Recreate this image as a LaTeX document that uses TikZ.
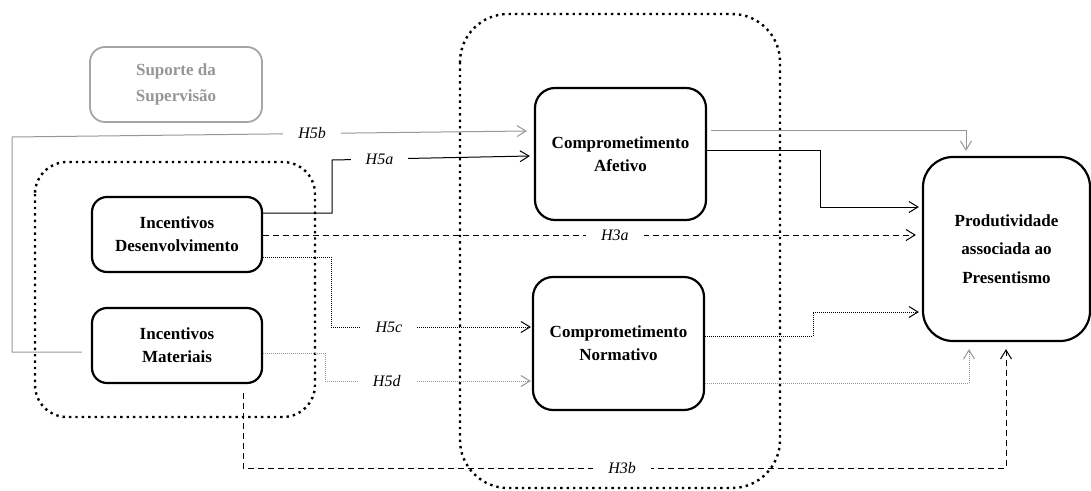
\documentclass[tikz,border=0pt]{standalone}
\usepackage{fontspec}
\setmainfont{Liberation Serif}
\usetikzlibrary{arrows.meta}
\definecolor{lgray}{RGB}{150,150,150}
\definecolor{bgray}{RGB}{165,165,165}
\tikzset{
  box/.style={draw, line width=2.2pt, rounded corners=15pt, align=center,
    font=\fontsize{17}{23}\selectfont\bfseries, inner sep=0pt},
  container/.style={line width=2.4pt, dash pattern=on 2.4pt off 4pt, rounded corners=#1},
  conn/.style={line width=1pt},
  tip/.style={-{Straight Barb[length=9pt,width=11pt]}},
  lbl/.style={fill=white, font=\fontsize{16}{18}\selectfont\itshape, inner xsep=15pt, inner ysep=2pt},
  fdot/.style={dash pattern=on 1pt off 1pt},
  dsh/.style={dash pattern=on 6pt off 4pt},
}
\begin{document}
\begin{tikzpicture}[x=1pt,y=-1pt]
\useasboundingbox (0,0) rectangle (1091,490);
% containers
\draw[container=32pt] (35,162) rectangle (315,417);
\draw[container=48pt] (460,14) rectangle (780,488);
% nodes
\node[box, draw=bgray, text=lgray, line width=1.8pt, font=\fontsize{17}{26}\selectfont\bfseries,
  minimum width=172pt, minimum height=75pt] (sup) at (176,84.5) {Suporte da\\Supervisão};
\node[box, minimum width=170pt, minimum height=75pt] (dev) at (177,234.5) {Incentivos\\Desenvolvimento};
\node[box, minimum width=170pt, minimum height=75pt] (mat) at (177,345.5) {Incentivos\\Materiais};
\node[box, rounded corners=20pt, minimum width=171pt, minimum height=132pt] (afe) at (620.5,154) {Comprometimento\\Afetivo};
\node[box, rounded corners=20pt, minimum width=171pt, minimum height=133pt] (nor) at (618.5,343.5) {Comprometimento\\Normativo};
\node[box, rounded corners=30pt, font=\fontsize{17}{28.5}\selectfont\bfseries,
  minimum width=167pt, minimum height=184pt] (prod) at (1006.5,249) {Produtividade\\associada ao\\Presentismo};
% connectors
% H5b (gray)
\draw[conn, lgray, tip] ([xshift=-9pt,yshift=-6.5pt]mat.west) -- (12,352) -- (12,137)
  -- node[lbl, text=black, pos=0.583] {H5b} ([xshift=-7pt,yshift=23pt]afe.west);
% afetivo -> prod (gray)
\draw[conn, lgray, tip] ([xshift=4pt,yshift=24pt]afe.east) -| ([xshift=-40.5pt,yshift=5pt]prod.north);
% H5a (black)
\draw[conn, tip] ([yshift=21.5pt]dev.east) -- (332,213) -- (332,160)
  -- node[lbl, pos=0.24] {H5a} ([xshift=-4pt,yshift=-2pt]afe.west);
% afetivo -> prod (black)
\draw[conn, tip] ([yshift=4pt]afe.east) -- (820,150) -- (820,207) -- ([xshift=-3pt,yshift=42pt]prod.west);
% H3a (dashed)
\draw[conn, dsh, tip] ([yshift=-0.5pt]dev.east) -- node[lbl, pos=0.539] {H3a} ([xshift=-6pt,yshift=14pt]prod.west);
% H5c (dotted)
\draw[conn, fdot, tip] ([yshift=-22.5pt]dev.east) -- (331,257) -- (331,327)
  -- node[lbl, pos=0.29] {H5c} ([xshift=-1pt,yshift=16.5pt]nor.west);
% H5d (gray dotted)
\draw[conn, fdot, lgray, tip] ([yshift=-7.5pt]mat.east) -- (325,353) -- (325,381)
  -- node[lbl, text=black, pos=0.30] {H5d} ([xshift=-1pt,yshift=-37.5pt]nor.west);
% normativo -> prod (dotted)
\draw[conn, fdot, tip] ([yshift=7.5pt]nor.east) -- (813,336) -- (813,312) -- ([xshift=-3pt,yshift=-63pt]prod.west);
% normativo -> prod (gray dotted)
\draw[conn, fdot, lgray, tip] ([yshift=-39.5pt]nor.east) -| ([xshift=-37.5pt,yshift=-7pt]prod.south);
% H3b (dashed)
\draw[conn, dsh, tip] ([xshift=66pt,yshift=-9pt]mat.south) -- (243,468)
  -- node[lbl, pos=0.497] {H3b} (1006,468) -- ([xshift=-0.5pt,yshift=-7pt]prod.south);
\end{tikzpicture}
\end{document}
